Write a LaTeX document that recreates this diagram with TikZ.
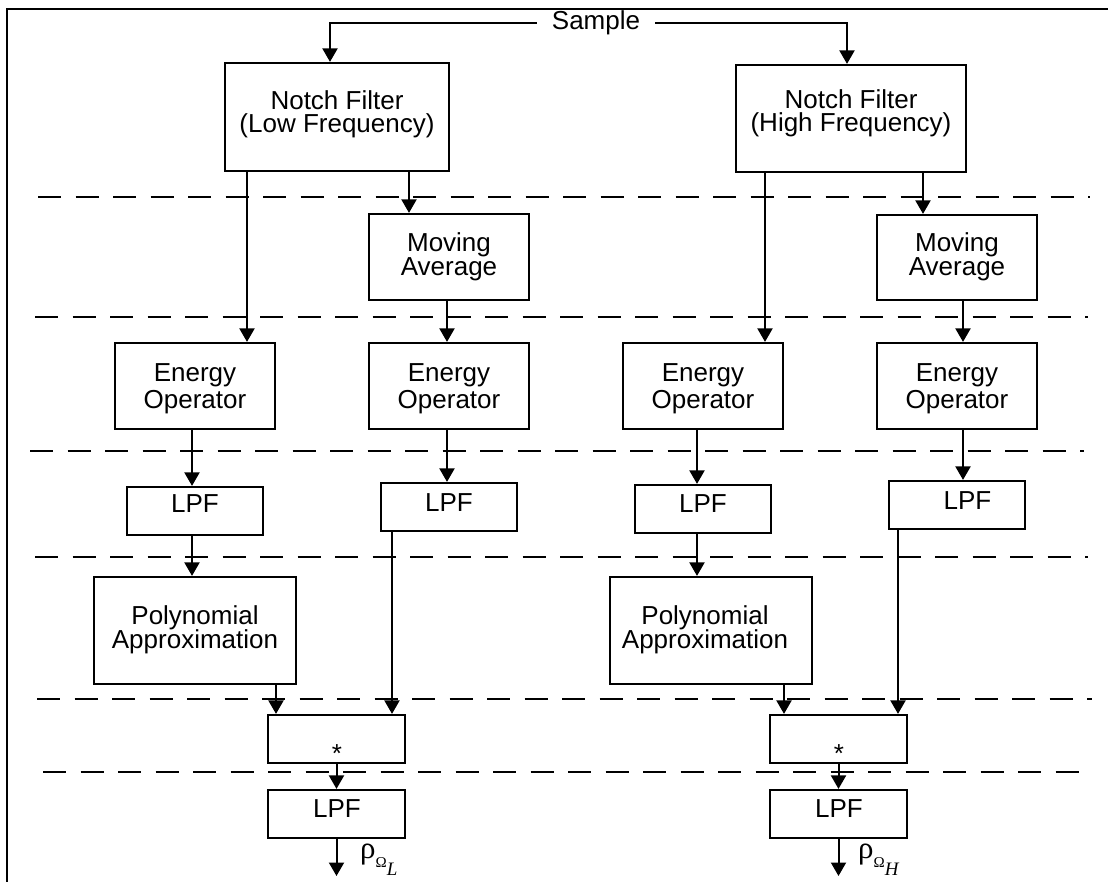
\documentclass[tikz,border=0pt]{standalone}
\usepackage{fontspec}
\setmainfont{Liberation Sans}
\newfontfamily\rhofont{Liberation Serif}
\usetikzlibrary{arrows.meta}
\begin{document}
\lineskiplimit=-30pt
\begin{tikzpicture}[x=1pt,y=-1pt,
  box/.style={draw, line width=2.2pt, inner sep=0pt},
  nfbox/.style={box, minimum width=224pt, minimum height=108pt},
  mabox/.style={box, minimum width=160pt, minimum height=86pt},
  eobox/.style={box, minimum width=160pt, minimum height=86pt},
  lpfbox/.style={box, minimum width=136pt, minimum height=48pt},
  polybox/.style={box, minimum width=202pt, minimum height=107pt},
  starbox/.style={box, minimum width=137pt, minimum height=48pt},
  txt/.style={align=center, inner sep=0pt},
  nftxt/.style={txt, font=\fontsize{26}{23}\selectfont},
  matxt/.style={txt, font=\fontsize{26}{24.3}\selectfont},
  eotxt/.style={txt, font=\fontsize{26}{27.3}\selectfont},
  onetxt/.style={txt, font=\fontsize{26}{26}\selectfont},
  rholab/.style={anchor=base west, inner sep=0pt},
  arr/.style={line width=2pt, -{Triangle[width=15pt,length=13.5pt]}},
  sep/.style={line width=1.6pt, dash pattern=on 23pt off 14.5pt},
  frame/.style={line width=2.3pt}
]
\useasboundingbox (0,0) rectangle (1108,882);

% frame
\draw[frame] (1108,9) -- (7,9) -- (7,886);

% dashed separators
\draw[sep] (38,197) -- (1090,197);
\draw[sep] (35,317) -- (1088,317);
\draw[sep] (30,451) -- (1084,451);
\draw[sep] (35,557) -- (1088,557);
\draw[sep] (37,699) -- (1092,699);
\draw[sep] (43,772) -- (1092,772);

% source
\node[onetxt, inner xsep=15pt, inner ysep=4pt] (sample) at (596,23) {Sample};

% boxes
\node[nfbox] (nfL) at (337,117) {};
\node[box, minimum width=230pt, minimum height=107pt] (nfH) at (851,118.5) {};
\node[mabox] (maL) at (449,257) {};
\node[box, minimum width=160pt, minimum height=85pt] (maH) at (957,257.5) {};
\node[eobox] (eoL1) at (195,386) {};
\node[eobox] (eoL2) at (449,386) {};
\node[eobox] (eoH1) at (703,386) {};
\node[eobox] (eoH2) at (957,386) {};
\node[lpfbox] (lpfL1) at (195,511) {};
\node[lpfbox] (lpfL2) at (449,507) {};
\node[lpfbox] (lpfH1) at (703,509) {};
\node[lpfbox] (lpfH2) at (957,505) {};
\node[polybox] (polyL) at (195,630.5) {};
\node[polybox] (polyH) at (711,630.5) {};
\node[starbox] (starL) at (336.5,739) {};
\node[starbox] (starH) at (838.5,739) {};
\node[starbox] (lpfL3) at (336.5,814) {};
\node[starbox] (lpfH3) at (838.5,814) {};

% texts
\node[nftxt] (nfLt) at (337,114) {Notch Filter\\(Low Frequency)};
\node[nftxt] (nfHt) at (851,113.7) {Notch Filter\\(High Frequency)};
\node[matxt] (maLt) at (449,257) {Moving\\Average};
\node[matxt] (maHt) at (957,257) {Moving\\Average};
\node[eotxt] (eoL1t) at (195,388.5) {Energy\\Operator};
\node[eotxt] (eoL2t) at (449,388.5) {Energy\\Operator};
\node[eotxt] (eoH1t) at (703,388.5) {Energy\\Operator};
\node[eotxt] (eoH2t) at (957,388.5) {Energy\\Operator};
\node[onetxt] (lpfL1t) at (195,504) {LPF};
\node[onetxt] (lpfL2t) at (449,502.5) {LPF};
\node[onetxt] (lpfH1t) at (703,503.5) {LPF};
\node[onetxt] (lpfH2t) at (967.5,501) {LPF};
\node[matxt] (polyLt) at (195,630) {Polynomial\\Approximation};
\node[matxt] (polyHt) at (705,630) {Polynomial\\Approximation};
\node[onetxt] (starLt) at (337,754) {*};
\node[onetxt] (starHt) at (839,754) {*};
\node[onetxt] (lpfL3t) at (337,809) {LPF};
\node[onetxt] (lpfH3t) at (839,809) {LPF};

% outputs
\coordinate (outL) at (336.5,876);
\coordinate (outH) at (838.5,876);
\node[rholab] (rhoL) at (360,858)
  {{\rhofont\fontsize{31}{31}\selectfont ρ}{\rhofont\fontsize{15}{15}\selectfont\raisebox{-9pt}{Ω}\raisebox{-17pt}{\itshape\fontsize{19}{19}\selectfont L}}};
\node[rholab] (rhoH) at (858,858)
  {{\rhofont\fontsize{31}{31}\selectfont ρ}{\rhofont\fontsize{15}{15}\selectfont\raisebox{-9pt}{Ω}\raisebox{-17pt}{\itshape\fontsize{19}{19}\selectfont H}}};

% connectors: sample
\draw[arr] (sample.west) -| ([xshift=-7pt]nfL.north);
\draw[arr] (sample.east) -| ([xshift=-4pt]nfH.north);

% left chain
\draw[arr] ([xshift=52pt]eoL1.north |- nfL.south) -- ([xshift=52pt]eoL1.north);
\draw[arr] ([xshift=-40pt]maL.north |- nfL.south) -- ([xshift=-40pt]maL.north);
\draw[arr] ([xshift=-2pt]maL.south) -- ([xshift=-2pt]eoL2.north);
\draw[arr] ([xshift=-3pt]eoL1.south) -- ([xshift=-3pt]lpfL1.north);
\draw[arr] ([xshift=-2pt]eoL2.south) -- ([xshift=-2pt]lpfL2.north);
\draw[arr] ([xshift=-3pt]lpfL1.south) -- ([xshift=-3pt]polyL.north);
\draw[arr] ([xshift=-57pt]lpfL2.south) -- ([xshift=-57pt]lpfL2.south |- starL.north);
\draw[arr] ([xshift=-60.5pt]starL.north |- polyL.south) -- ([xshift=-60.5pt]starL.north);
\draw[arr] (starL.south) -- (lpfL3.north);
\draw[arr] (lpfL3.south) -- (outL);

% right chain
\draw[arr] ([xshift=62pt]eoH1.north |- nfH.south) -- ([xshift=62pt]eoH1.north);
\draw[arr] ([xshift=-34pt]maH.north |- nfH.south) -- ([xshift=-34pt]maH.north);
\draw[arr] ([xshift=6pt]maH.south) -- ([xshift=6pt]eoH2.north);
\draw[arr] ([xshift=-6pt]eoH1.south) -- ([xshift=-6pt]lpfH1.north);
\draw[arr] ([xshift=6pt]eoH2.south) -- ([xshift=6pt]lpfH2.north);
\draw[arr] ([xshift=-6pt]lpfH1.south) -- ([xshift=-6pt]lpfH1.south |- polyH.north);
\draw[arr] ([xshift=-59pt]lpfH2.south) -- ([xshift=-59pt]lpfH2.south |- starH.north);
\draw[arr] ([xshift=-54.5pt]starH.north |- polyH.south) -- ([xshift=-54.5pt]starH.north);
\draw[arr] (starH.south) -- (lpfH3.north);
\draw[arr] (lpfH3.south) -- (outH);
\end{tikzpicture}
\end{document}
